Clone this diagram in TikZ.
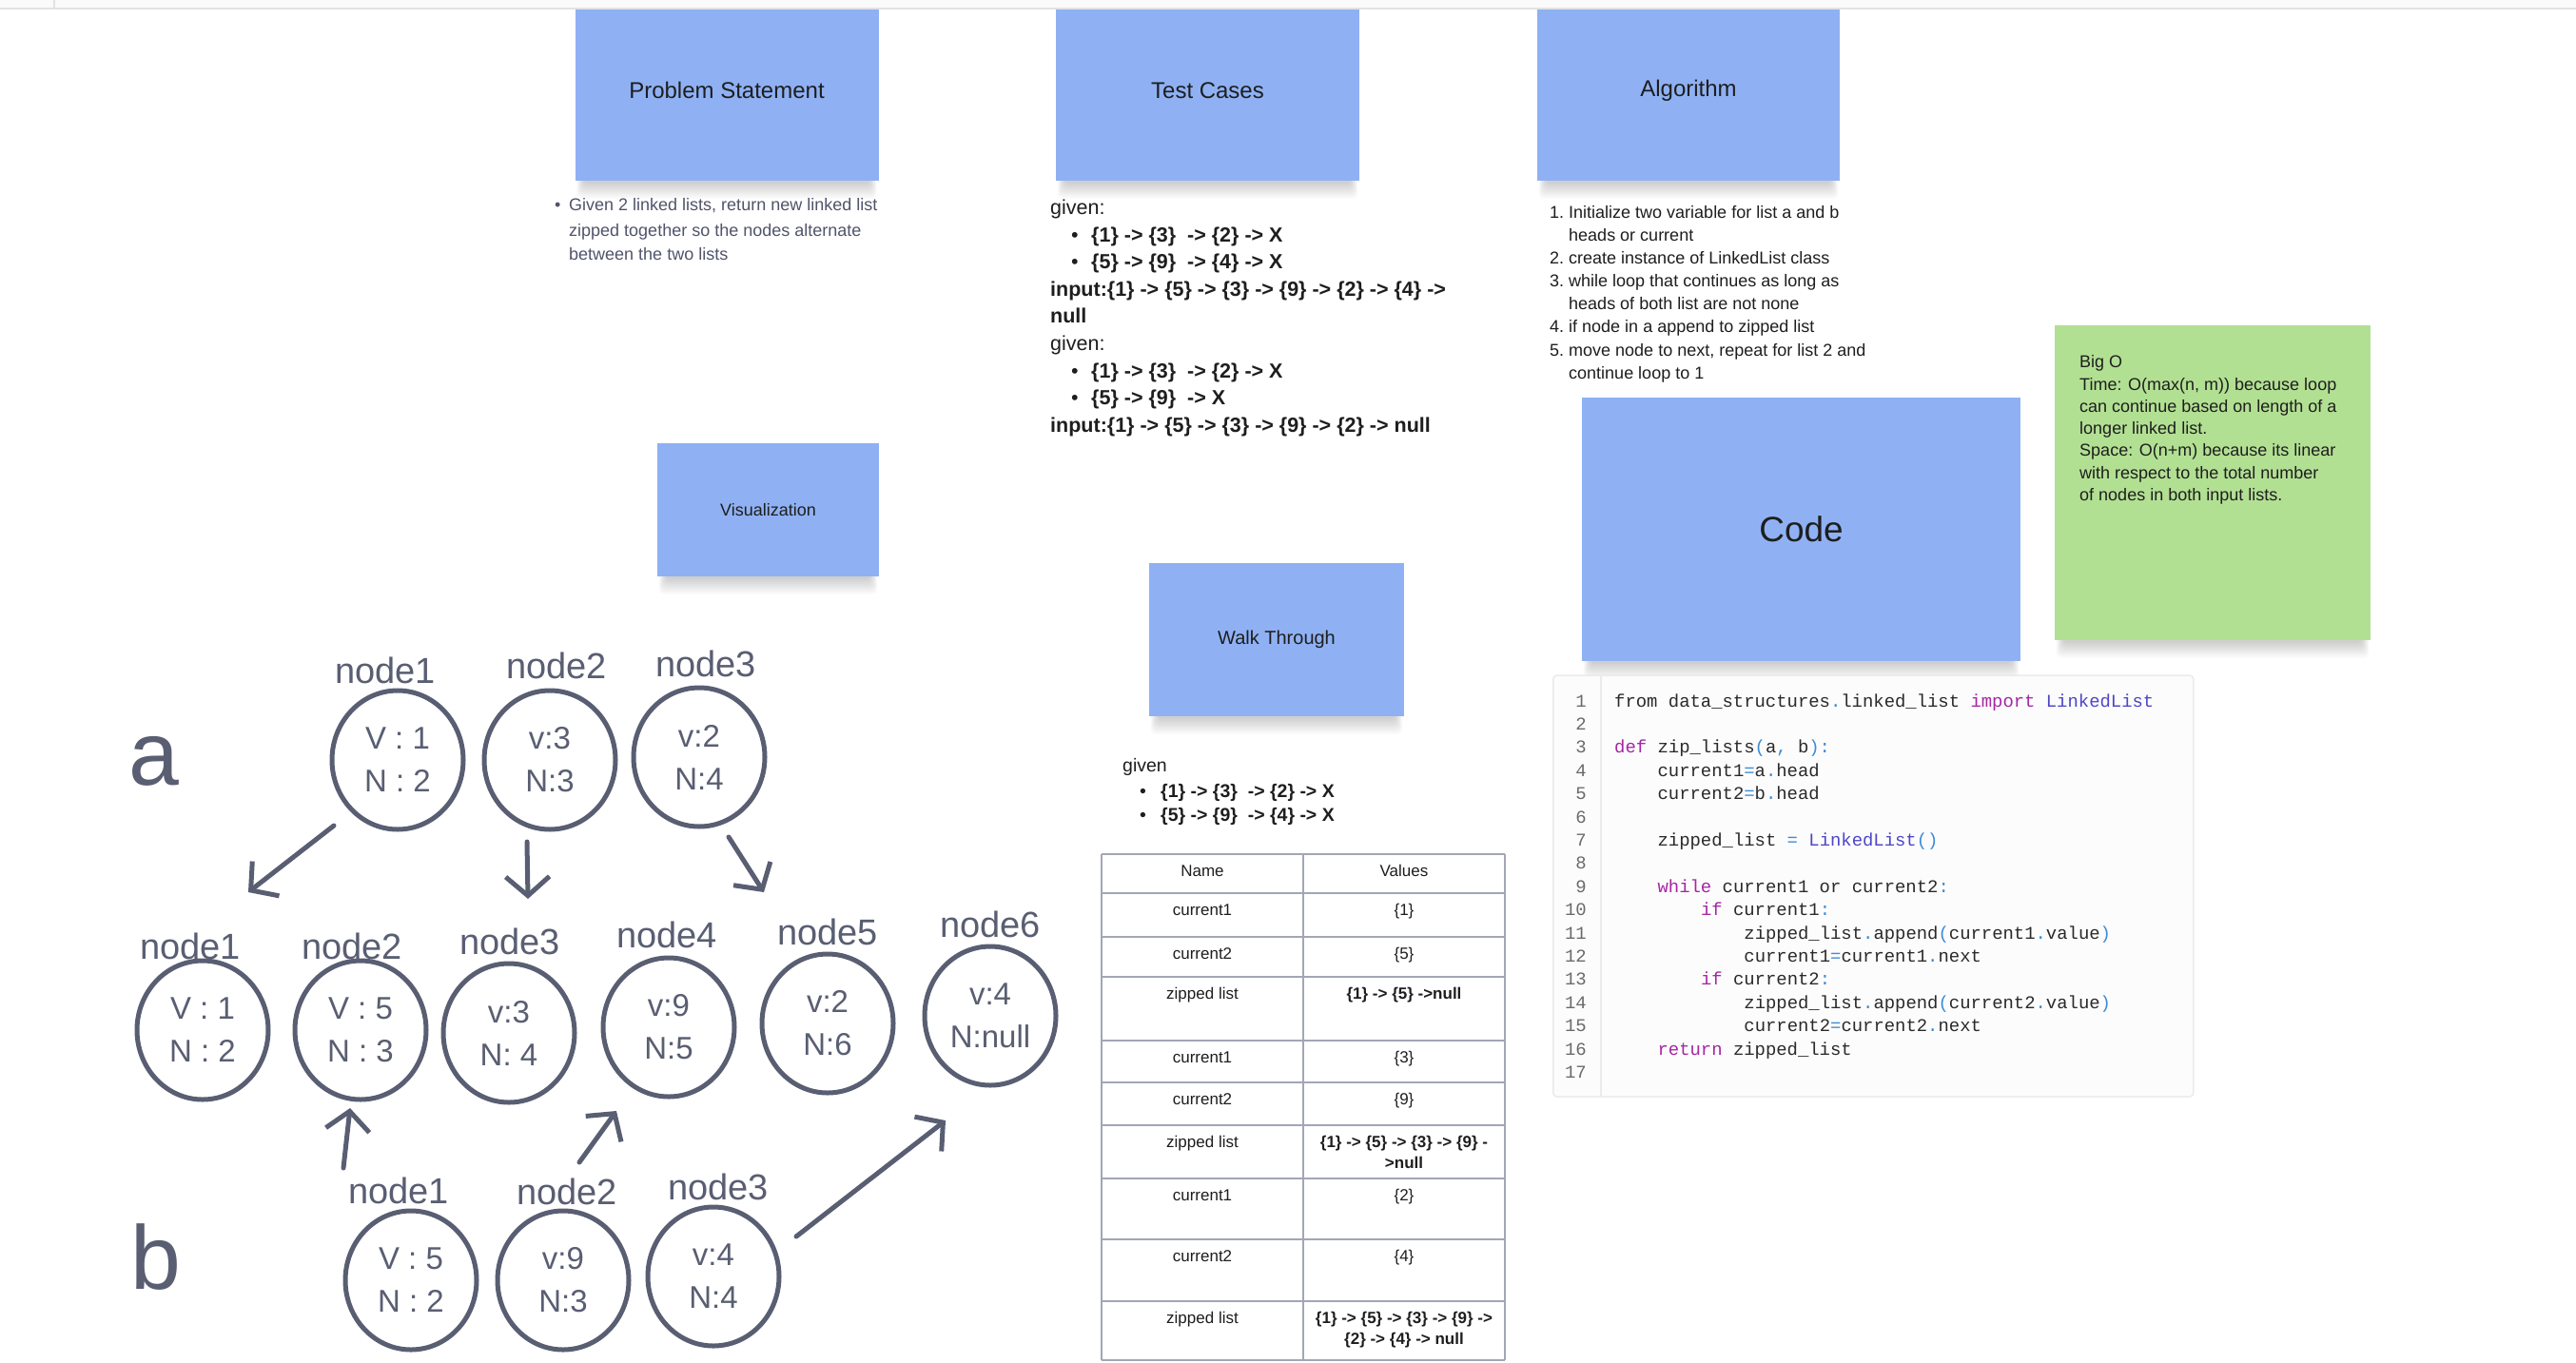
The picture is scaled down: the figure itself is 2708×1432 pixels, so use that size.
\documentclass[tikz,border=0pt]{standalone}
\usepackage{fontspec}
\setmainfont{Liberation Sans}
\setmonofont{Liberation Mono}
\usetikzlibrary{arrows.meta,shapes.geometric,calc}

\definecolor{stickyblue}{HTML}{8FB1F4}
\definecolor{stickygreen}{HTML}{B2E093}
\definecolor{ink}{HTML}{595E72}
\definecolor{slate}{HTML}{50546A}
\definecolor{txt}{HTML}{1E1E1E}
\definecolor{gridline}{HTML}{A2A6B6}
\definecolor{barbg}{HTML}{FAFAFA}
\definecolor{barline}{HTML}{E2E2E2}
\definecolor{codebg}{HTML}{FCFCFC}
\definecolor{codeframe}{HTML}{EBEBEB}
\definecolor{codetxt}{HTML}{2A2A2A}
\definecolor{kwcol}{HTML}{A626A4}
\definecolor{clscol}{HTML}{4E46C8}
\definecolor{pctcol}{HTML}{3D8BD5}
\definecolor{lnumcol}{HTML}{6A6A6A}

\newcommand{\pxfont}[1]{\fontsize{#1}{#1}\selectfont}
\newcommand{\kwd}[1]{\textcolor{kwcol}{#1}}
\newcommand{\clsn}[1]{\textcolor{clscol}{#1}}
\newcommand{\pun}[1]{\textcolor{pctcol}{#1}}

\pgfdeclarelayer{paper}
\pgfdeclarelayer{shade}
\pgfsetlayers{paper,shade,main}

\begin{document}
\begin{tikzpicture}[x=1pt, y=-1pt, >=Stealth,
  sticky/.style={fill=stickyblue, draw=none, inner sep=0pt, text=txt},
  txtline/.style={anchor=base west, inner sep=0pt, text=txt},
  hnode/.style={ellipse, draw=ink, line width=5pt, minimum width=138pt, minimum height=146pt,
    inner sep=0pt, text=ink, align=center, font=\fontsize{33}{45}\selectfont},
  hlabel/.style={text=ink, inner sep=0pt, font=\pxfont{38}},
  hletter/.style={text=ink, inner sep=0pt, font=\pxfont{95}},
  handarrow/.style={draw=ink, line width=5pt, line cap=round, line join=round,
    -{Straight Barb[length=20pt, width=46pt]}},
  cell/.style={anchor=base, inner sep=0pt, text=txt, font=\pxfont{17}},
  codeline/.style={anchor=base west, inner sep=0pt, text=codetxt, font=\ttfamily\pxfont{18.9}},
  lnum/.style={anchor=base east, inner sep=0pt, text=lnumcol, font=\ttfamily\pxfont{18.9}}]
\begin{pgfonlayer}{paper}
\fill[white] (0,0) rectangle (2708,1432);
\end{pgfonlayer}
\useasboundingbox (0,0) rectangle (2708,1432);

% sticky notes
\node[sticky, minimum width=319pt, minimum height=190pt, font=\pxfont{24}] (probbox) at (764,95) {Problem Statement};
\node[sticky, minimum width=319pt, minimum height=190pt, font=\pxfont{24}] (testbox) at (1269.5,95) {Test Cases};
\node[sticky, minimum width=318pt, minimum height=190pt, font=\pxfont{24}] (algobox) at (1775,95) {Algorithm\vphantom{T}};
\node[sticky, minimum width=233pt, minimum height=140pt, font=\pxfont{18}] (visbox) at (807.5,536) {Visualization};
\node[sticky, minimum width=268pt, minimum height=161pt, font=\pxfont{20}] (walkbox) at (1342,672.5) {Walk Through};
\node[sticky, minimum width=461pt, minimum height=277pt, font=\pxfont{37}] (codebox) at (1893.5,556.5) {Code};
\node[sticky, fill=stickygreen, minimum width=332pt, minimum height=331pt] (bigobox) at (2326,507.5) {};

% soft shadows under the notes
\begin{pgfonlayer}{shade}
\foreach \b in {probbox,testbox,algobox,visbox,walkbox,codebox,bigobox}
  \foreach \k in {0,...,7}
    \fill[black, opacity=0.022, rounded corners=5pt]
      ($(\b.north west)+(9-\k,20)$) rectangle ($(\b.south east)+(-9+\k,3+2.2*\k)$);
\end{pgfonlayer}

% top bar
\fill[barbg] (0,0) rectangle (2708,9);
\draw[barline, line width=1.5pt] (0,9) -- (2708,9);
\draw[barline, line width=1.5pt] (57,0) -- (57,9);

% problem statement
\node[txtline, text=slate, font=\pxfont{18}] (psdot) at (583,221) {\textbullet};
\node[txtline, text=slate, font=\pxfont{18}] (ps1) at (598,221) {Given 2 linked lists, return new linked list};
\node[txtline, text=slate, font=\pxfont{18}] (ps2) at (598,248) {zipped together so the nodes alternate};
\node[txtline, text=slate, font=\pxfont{18}] (ps3) at (598,273) {between the two lists};

% test cases
\node[txtline, font=\pxfont{21.5}] (tc1) at (1104,225.5) {given:};
\node[txtline, font=\pxfont{21.5}] (tcdot1) at (1126,254.1) {\textbullet};
\node[txtline, font=\pxfont{21.5}\bfseries] (tc2) at (1147,254.1) {\{1\} -> \{3\}~ -> \{2\} -> X};
\node[txtline, font=\pxfont{21.5}] (tcdot2) at (1126,282.7) {\textbullet};
\node[txtline, font=\pxfont{21.5}\bfseries] (tc3) at (1147,282.7) {\{5\} -> \{9\}~ -> \{4\} -> X};
\node[txtline, font=\pxfont{21.5}\bfseries] (tc4) at (1104,311.3) {input:\{1\} -> \{5\} -> \{3\} -> \{9\} -> \{2\} -> \{4\} ->};
\node[txtline, font=\pxfont{21.5}\bfseries] (tc5) at (1104,339.9) {null};
\node[txtline, font=\pxfont{21.5}] (tc6) at (1104,368.5) {given:};
\node[txtline, font=\pxfont{21.5}] (tcdot3) at (1126,397.1) {\textbullet};
\node[txtline, font=\pxfont{21.5}\bfseries] (tc7) at (1147,397.1) {\{1\} -> \{3\}~ -> \{2\} -> X};
\node[txtline, font=\pxfont{21.5}] (tcdot4) at (1126,425.7) {\textbullet};
\node[txtline, font=\pxfont{21.5}\bfseries] (tc8) at (1147,425.7) {\{5\} -> \{9\}~ -> X};
\node[txtline, font=\pxfont{21.5}\bfseries] (tc9) at (1104,454.3) {input:\{1\} -> \{5\} -> \{3\} -> \{9\} -> \{2\} -> null};

% algorithm
\foreach \yy/\num in {229/1., 277/2., 301/3., 349/4., 374/5.}
  \node[txtline, font=\pxfont{18}] (algnum\num) at (1629,\yy) {\num};
\foreach \yy/\line [count=\i] in {229/Initialize two variable for list a and b, 253/heads or current,
    277/create instance of LinkedList class, 301/while loop that continues as long as,
    325/heads of both list are not none, 349/if node in a append to zipped list,
    374/{move node to next, repeat for list 2 and}, 398/continue loop to 1}
  \node[txtline, font=\pxfont{18}] (alg\i) at (1649,\yy) {\line};

% big o
\foreach \yy/\line [count=\i] in {386/Big O, 410/{Time: O(max(n, m)) because loop},
    433/can continue based on length of a, 456/longer linked list.,
    479/Space: O(n+m) because its linear, 503/with respect to the total number,
    526/of nodes in both input lists.}
  \node[txtline, font=\pxfont{18}] (bigo\i) at (2186,\yy) {\line};

% code panel
\node[fill=codebg, draw=codeframe, line width=1.5pt, rounded corners=4pt, inner sep=0pt,
  minimum width=673pt, minimum height=443pt] (codepanel) at (1969.25,931.5) {};
\draw[codeframe, line width=1.5pt] (1683,710) -- (1683,1153);
\foreach \k in {1,...,17}
  \node[lnum] (ln\k) at (1668,{743+24.4*(\k-1)}) {\k};
\node[codeline] (cl1) at (1697,743) {from data\_structures\pun{.}linked\_list \kwd{import} \clsn{LinkedList}};
\node[codeline] (cl3) at (1697,791.8) {\kwd{def} zip\_lists\pun{(}a\pun{,} b\pun{):}};
\node[codeline] (cl4) at (1742.4,816.2) {current1\pun{=}a\pun{.}head};
\node[codeline] (cl5) at (1742.4,840.6) {current2\pun{=}b\pun{.}head};
\node[codeline] (cl7) at (1742.4,889.4) {zipped\_list \pun{=} \clsn{LinkedList}\pun{()}};
\node[codeline] (cl9) at (1742.4,938.2) {\kwd{while} current1 or current2\pun{:}};
\node[codeline] (cl10) at (1787.8,962.6) {\kwd{if} current1\pun{:}};
\node[codeline] (cl11) at (1833.2,987) {zipped\_list\pun{.}append\pun{(}current1\pun{.}value\pun{)}};
\node[codeline] (cl12) at (1833.2,1011.4) {current1\pun{=}current1\pun{.}next};
\node[codeline] (cl13) at (1787.8,1035.8) {\kwd{if} current2\pun{:}};
\node[codeline] (cl14) at (1833.2,1060.2) {zipped\_list\pun{.}append\pun{(}current2\pun{.}value\pun{)}};
\node[codeline] (cl15) at (1833.2,1084.6) {current2\pun{=}current2\pun{.}next};
\node[codeline] (cl16) at (1742.4,1109) {\kwd{return} zipped\_list};

% walk through
\node[txtline, font=\pxfont{19.5}] (wt1) at (1180,811) {given};
\node[txtline, font=\pxfont{19.5}] (wtdot1) at (1198,838) {\textbullet};
\node[txtline, font=\pxfont{19.5}\bfseries] (wt2) at (1220,838) {\{1\} -> \{3\}~ -> \{2\} -> X};
\node[txtline, font=\pxfont{19.5}] (wtdot2) at (1198,863) {\textbullet};
\node[txtline, font=\pxfont{19.5}\bfseries] (wt3) at (1220,863) {\{5\} -> \{9\}~ -> \{4\} -> X};

% table
\foreach \yy in {898,939,985,1027,1094,1138,1183,1239,1303,1368,1430}
  \draw[gridline, line width=2pt] (1158,\yy) -- (1582,\yy);
\foreach \xx in {1158,1370,1582}
  \draw[gridline, line width=2pt] (\xx,898) -- (\xx,1430);
\foreach \yy/\nm/\vl [count=\i] in {898/Name/Values, 939/current1/\{1\}, 985/current2/\{5\},
    1027/zipped list/\textbf{\{1\} -> \{5\} ->null}, 1094/current1/\{3\}, 1138/current2/\{9\},
    1183/zipped list/\textbf{\{1\} -> \{5\} -> \{3\} -> \{9\} -}, 1239/current1/\{2\},
    1303/current2/\{4\}, 1368/zipped list/\textbf{\{1\} -> \{5\} -> \{3\} -> \{9\} ->}}
{
  \node[cell] (name\i) at (1264,\yy+23) {\nm};
  \node[cell] (val\i) at (1476,\yy+23) {\vl};
}
\node[cell, font=\pxfont{17}\bfseries] (val7b) at (1476,1228) {>null};
\node[cell, font=\pxfont{17}\bfseries] (val10b) at (1476,1413) {\{2\} -> \{4\} -> null};

% hand drawn lists
\node[hletter] (lista) at (162,800) {a};
\node[hletter] (listb) at (164,1322) {b};
\foreach \nd/\xx/\yy/\va/\nx/\lab/\lx/\ly in {
    a1/418/799/{V : 1}/{N : 2}/node1/405/705, a2/578/799/{v:3}/{N:3}/node2/585/700,
    a3/735/796/{v:2}/{N:4}/node3/742/698,
    z1/213/1083/{V : 1}/{N : 2}/node1/200/995, z2/379/1083/{V : 5}/{N : 3}/node2/370/995,
    z3/535/1086/{v:3}/{N: 4}/node3/536/990, z4/703/1080/{v:9}/{N:5}/node4/701/983,
    z5/870/1076/{v:2}/{N:6}/node5/870/980, z6/1041/1068/{v:4}/{N:null}/node6/1041/972,
    b1/432/1346/{V : 5}/{N : 2}/node1/419/1252, b2/592/1346/{v:9}/{N:3}/node2/596/1253,
    b3/750/1342/{v:4}/{N:4}/node3/755/1248}
{
  \node[hnode] (\nd) at (\xx,\yy) {\va\\\nx};
  \node[hlabel] (\nd lab) at (\lx,\ly) {\lab};
}

% hand drawn arrows
\coordinate (a1out) at (351,868);  \coordinate (z1in) at (261,938);
\coordinate (a2out) at (554,885);  \coordinate (z3in) at (555,945);
\coordinate (a3out) at (766,880);  \coordinate (z5in) at (803,938);
\coordinate (b1out) at (361,1228); \coordinate (z2in) at (368,1165);
\coordinate (b2out) at (609,1222); \coordinate (z4in) at (648,1168);
\coordinate (b3out) at (837,1300); \coordinate (z6in) at (994,1178);
\draw[handarrow] (a1out) -- (z1in);
\draw[handarrow] (a2out) -- (z3in);
\draw[handarrow] (a3out) -- (z5in);
\draw[handarrow] (b1out) -- (z2in);
\draw[handarrow] (b2out) -- (z4in);
\draw[handarrow] (b3out) -- (z6in);
\end{tikzpicture}
\end{document}
